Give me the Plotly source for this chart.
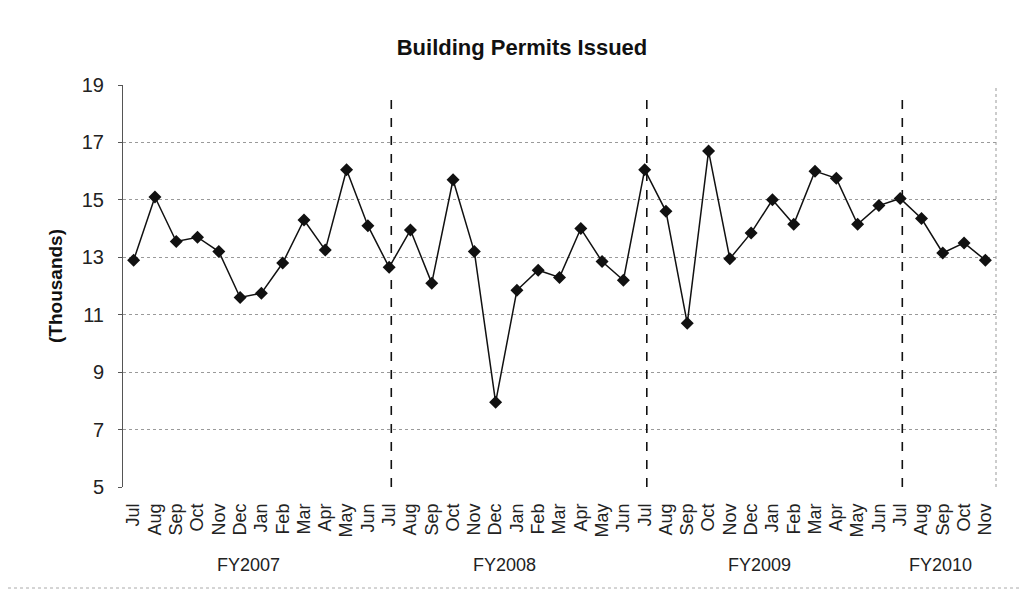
import plotly.graph_objects as go

months = ["Jul", "Aug", "Sep", "Oct", "Nov", "Dec", "Jan", "Feb", "Mar", "Apr", "May", "Jun",
          "Jul", "Aug", "Sep", "Oct", "Nov", "Dec", "Jan", "Feb", "Mar", "Apr", "May", "Jun",
          "Jul", "Aug", "Sep", "Oct", "Nov", "Dec", "Jan", "Feb", "Mar", "Apr", "May", "Jun",
          "Jul", "Aug", "Sep", "Oct", "Nov"]
permits = [12.9, 15.1, 13.55, 13.7, 13.2, 11.6, 11.75, 12.8, 14.3, 13.25, 16.05, 14.1,
           12.65, 13.95, 12.1, 15.7, 13.2, 7.95, 11.85, 12.55, 12.3, 14.0, 12.85, 12.2,
           16.05, 14.6, 10.7, 16.7, 12.95, 13.85, 15.0, 14.15, 16.0, 15.75, 14.15, 14.8,
           15.05, 14.35, 13.15, 13.5, 12.9]
fiscal_years = ["FY2007", "FY2008", "FY2009", "FY2010"]
fy_start = [0, 12, 24, 36]
fy_end = [11, 23, 35, 40]
y_ticks = [5, 7, 9, 11, 13, 15, 17, 19]

x = list(range(len(months)))
FONT = "Liberation Sans, Arial, sans-serif"

# page body has an 8px default margin, so the figure is sized to fit the window
W, H = 1021, 584
ML, MR, MT, MB = 115, 33, 77, 105
PH = H - MT - MB

fig = go.Figure()
fig.add_trace(go.Scatter(
    x=x, y=permits, mode="lines+markers",
    line=dict(color="#111111", width=1.5),
    marker=dict(symbol="diamond", size=10, color="#111111"),
    showlegend=False, cliponaxis=False,
))

shapes = []
for s in fy_start[1:]:
    shapes.append(dict(type="line", xref="x", yref="y", x0=s + 0.1, x1=s + 0.1,
                       y0=5, y1=18.76, line=dict(color="#111111", width=1.6, dash="dash")))
# plot area border (right side)
shapes.append(dict(type="line", xref="paper", yref="paper", x0=1, x1=1, y0=0, y1=1,
                   line=dict(color="#999999", width=1, dash="dot")))
# bottom edge of the chart frame
shapes.append(dict(type="line", xref="paper", yref="paper",
                   x0=-ML / (W - ML - MR), x1=(W - ML) / (W - ML - MR),
                   y0=-(H - MT - PH - 4) / PH, y1=-(H - MT - PH - 4) / PH,
                   line=dict(color="#aaaaaa", width=1, dash="dot")))

annotations = []
for name, a, b in zip(fiscal_years, fy_start, fy_end):
    annotations.append(dict(x=(a + b) / 2 - 0.1, xref="x", y=-(565 - 487) / PH, yref="paper",
                            yanchor="middle", text=name, showarrow=False,
                            font=dict(family=FONT, size=18, color="#222222")))

fig.update_layout(
    width=W, height=H,
    margin=dict(l=ML, r=MR, t=MT, b=MB),
    paper_bgcolor="white", plot_bgcolor="white",
    title=dict(text="<b>Building Permits Issued</b>", x=(522 - 8) / W, xref="container",
               xanchor="center", y=1 - (47 - 8) / H, yref="container", yanchor="middle",
               font=dict(family=FONT, size=22, color="#111111")),
    xaxis=dict(range=[-0.5, len(months) - 0.5], tickmode="array", tickvals=x,
               ticktext=months, tickangle=-90, showgrid=False, zeroline=False,
               ticks="", ticklabelstandoff=12,
               tickfont=dict(family=FONT, size=18, color="#222222"),
               showline=False, fixedrange=True),
    yaxis=dict(range=[5, 19], tickmode="array", tickvals=y_ticks,
               showgrid=True, gridcolor="#9a9a9a", gridwidth=1, griddash="dot",
               zeroline=False, showline=True, linecolor="#555555", linewidth=1,
               ticks="outside", ticklen=4, tickcolor="#555555", ticklabelstandoff=10,
               tickfont=dict(family=FONT, size=20, color="#222222"),
               title=dict(text="<b>(Thousands)</b>", standoff=14,
                          font=dict(family=FONT, size=19, color="#111111"))),
    shapes=shapes, annotations=annotations,
)

fig.write_html("out.html")
